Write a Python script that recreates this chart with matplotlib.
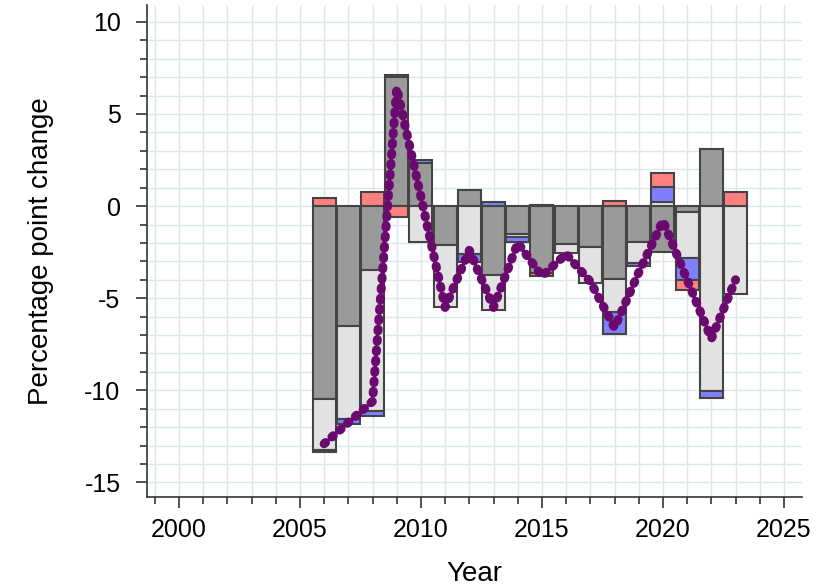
import numpy as np
import matplotlib.pyplot as plt
from matplotlib.ticker import MultipleLocator

plt.rcParams["font.family"] = ["Liberation Sans", "DejaVu Sans"]
plt.rcParams["axes.unicode_minus"] = False

years = list(range(2006, 2024))
# components, stacked in this order (positives up, negatives down)
dark = [-10.45, -6.52, -3.48, 7.0, 2.32, -2.12, 0.87, -3.75, -1.49, -3.62,
        -2.05, -2.2, -3.93, -1.95, -2.5, -0.3, 3.08, 0.0]
light = [-2.8, -5.02, -7.64, 0.0, -1.95, -3.35, -2.6, -1.9, -0.18, 0.08,
         -0.5, -2.0, -1.81, -1.15, 0.23, -2.54, -10.04, -4.78]
blue = [-0.12, -0.27, -0.28, 0.12, 0.18, 0.0, -0.43, 0.23, -0.27, 0.0,
        0.0, 0.0, -1.18, -0.15, 0.82, -1.18, -0.36, 0.0]
red = [0.45, 0.0, 0.78, -0.58, 0.0, 0.0, 0.0, 0.0, 0.0, -0.2,
       0.0, 0.0, 0.3, 0.0, 0.75, -0.55, 0.0, 0.78]
net = [-12.9, -11.75, -10.6, 6.4, 0.5, -5.5, -2.4, -5.5, -2.0, -3.8,
       -2.6, -4.1, -6.6, -3.6, -0.8, -4.0, -7.2, -4.0]

components = [(dark, "#9a9a9a"), (light, "#e2e2e2"), (blue, "#8080ff"), (red, "#ff8080")]

fig = plt.figure(figsize=(8.21, 5.87), dpi=100)
ax = fig.add_axes([0.179, 0.153, 0.798, 0.838])

pos_base = np.zeros(len(years))
neg_base = np.zeros(len(years))
for vals, col in components:
    vals = np.array(vals)
    bottom = np.where(vals >= 0, pos_base, neg_base)
    mask = vals != 0
    ax.bar(np.array(years)[mask], vals[mask], bottom=bottom[mask], width=0.95,
           color=col, edgecolor="#444444", linewidth=1.5, zorder=3)
    pos_base = pos_base + np.where(vals > 0, vals, 0)
    neg_base = neg_base + np.where(vals < 0, vals, 0)

ax.plot(years, net, color="#6a0a6e", lw=6.5, ls=(0, (0.2, 0.95)),
        dash_capstyle="round", solid_capstyle="round", zorder=5)

ax.set_xlim(1998.68, 2025.75)
ax.set_ylim(-15.8, 10.9)
ax.xaxis.set_major_locator(MultipleLocator(5))
ax.xaxis.set_minor_locator(MultipleLocator(1))
ax.yaxis.set_major_locator(MultipleLocator(5))
ax.yaxis.set_minor_locator(MultipleLocator(1))
ax.grid(True, which="both", color="#dbe8eb", lw=1, zorder=0)
ax.set_axisbelow(True)
for s in ["top", "right"]:
    ax.spines[s].set_visible(False)
for s in ["left", "bottom"]:
    ax.spines[s].set_color("#333333")
    ax.spines[s].set_linewidth(1.2)
ax.tick_params(which="major", length=8, width=1.2, color="#333333", labelsize=18, pad=7)
ax.tick_params(axis="y", which="major", pad=11)
ax.tick_params(which="minor", length=5, width=1.2, color="#333333")
ax.set_xlabel("Year", fontsize=20, labelpad=14)
ax.set_ylabel("Percentage point change", fontsize=20, labelpad=22)

fig.savefig("out.png", dpi=100)
